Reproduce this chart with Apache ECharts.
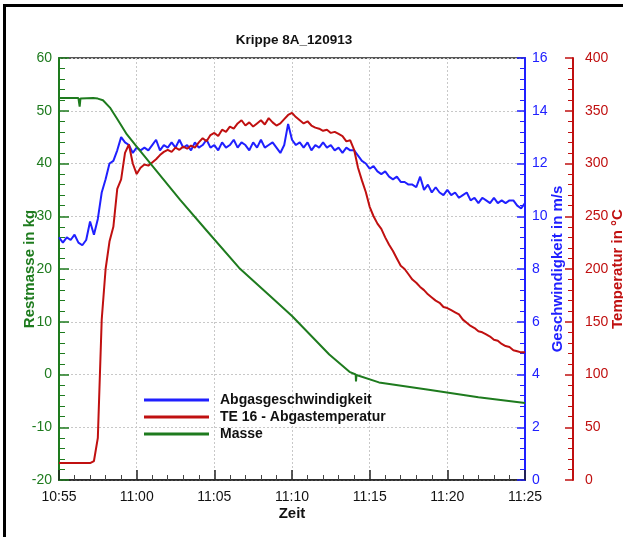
<!DOCTYPE html>
<html><head><meta charset="utf-8">
<script src="https://cdn.jsdelivr.net/npm/echarts@6/dist/echarts.min.js"></script>
<style>html,body{margin:0;padding:0;background:#fff}#c{width:623px;height:537px}</style>
</head><body><div id="c"></div>
<script>
// ---- data ----
const titleText = "Krippe 8A_120913";
const xTickLabels = ["10:55","11:00","11:05","11:10","11:15","11:20","11:25"];
const seriesNames = ["Abgasgeschwindigkeit","TE 16 - Abgastemperatur","Masse"];
// minutes after 10:55
const timeMin = [0,0.25,0.5,0.75,1,1.25,1.5,1.75,2,2.25,2.5,2.75,3,3.25,3.5,3.75,4,4.25,4.5,4.75,
5,5.25,5.5,5.75,6,6.25,6.5,6.75,7,7.25,7.5,7.75,8,8.25,8.5,8.75,9,9.25,9.5,9.75,
10,10.25,10.5,10.75,11,11.25,11.5,11.75,12,12.25,12.5,12.75,13,13.25,13.5,13.75,14,14.25,14.5,14.75,
15,15.25,15.5,15.75,16,16.25,16.5,16.75,17,17.25,17.5,17.75,18,18.25,18.5,18.75,19,19.25,19.5,19.75,
20,20.25,20.5,20.75,21,21.25,21.5,21.75,22,22.25,22.5,22.75,23,23.25,23.5,23.75,24,24.25,24.5,24.75,
25,25.25,25.5,25.75,26,26.25,26.5,26.75,27,27.25,27.5,27.75,28,28.25,28.5,28.75,29,29.25,29.5,29.75,30];
// m/s
const speed = [9.2,9.0,9.2,9.1,9.3,9.0,8.9,9.1,9.8,9.3,9.9,10.9,11.4,12.0,12.1,12.5,13.0,12.8,12.7,12.4,
12.6,12.5,12.6,12.5,12.7,12.9,12.5,12.7,12.6,12.8,12.6,12.9,12.6,12.7,12.5,12.8,12.6,12.7,12.9,12.6,
12.7,12.5,12.8,12.6,12.7,12.9,12.6,12.8,12.7,12.5,12.8,12.6,12.9,12.6,12.7,12.8,12.6,12.4,12.7,13.5,
12.9,12.7,12.8,12.6,12.8,12.5,12.7,12.6,12.8,12.6,12.7,12.5,12.6,12.4,12.6,12.5,12.5,12.3,12.1,12.0,
11.8,11.9,11.7,11.6,11.7,11.5,11.4,11.5,11.3,11.3,11.2,11.2,11.1,11.5,11.0,11.2,10.9,11.1,10.9,10.8,
11.0,10.8,10.9,10.7,10.8,10.9,10.6,10.7,10.5,10.7,10.6,10.5,10.7,10.5,10.6,10.5,10.6,10.6,10.4,10.3,10.5];
// °C
const temperature = [16,16,16,16,16,16,16,16,16,18,40,152,200,226,240,276,285,310,318,300,
290,296,299,298,301,304,308,311,313,311,315,313,316,314,317,315,320,324,321,327,
329,326,332,330,335,333,338,341,336,339,335,338,341,337,343,339,336,338,342,346,
348,344,341,338,340,336,334,333,331,332,329,330,328,326,321,322,313,296,284,273,
259,250,243,238,230,223,217,210,203,200,195,190,187,183,180,176,173,170,168,164,
163,161,159,157,152,149,146,144,141,140,138,136,133,132,129,127,126,123,122,121,121];
// kg
const massTime = [0,1.25,1.33,1.38,1.45,2.2,2.5,2.83,3.28,3.8,4.37,5.0,6.3,7.8,9.5,11.6,13.5,15.0,17.4,18.7,19.1,19.12,19.15,20.6,23.8,27.0,30];
const mass = [52.4,52.4,50.8,52.3,52.4,52.4,52.3,52.0,50.6,48.2,45.5,43.2,38.5,33.1,27.3,20.2,15.1,11.1,3.8,0.5,0.0,-1.3,-0.1,-1.5,-2.9,-4.3,-5.4];

// ---- chart ----
const GREEN = "#1e7b1e", BLUE = "#2020ff", RED = "#c01010";
const FONT = "Liberation Sans, Arial, sans-serif";
const chart = echarts.init(document.getElementById("c"), null, {renderer: "canvas"});
const pair = (xs, ys) => xs.map((x, i) => [x, ys[i]]);
const yAx = (o) => Object.assign({
  type: "value",
  splitLine: {show: false},
  nameLocation: "middle",
  nameMoveOverlap: false,
}, o);
chart.setOption({
  animation: false,
  title: {text: titleText, left: 289, top: 28, textAlign: "center",
    textStyle: {fontFamily: FONT, fontWeight: "bold", fontSize: 13.5, color: "#111"}},
  grid: {left: 59, right: 98, top: 58, bottom: 57, show: true, borderColor: "#222", borderWidth: 1.5,
    outerBoundsMode: "none", containLabel: false},
  legend: {
    orient: "vertical", left: 144, top: 393, padding: 0, itemGap: 3,
    itemWidth: 65, itemHeight: 3, icon: "rect",
    textStyle: {fontFamily: FONT, fontWeight: "bold", fontSize: 14, color: "#111", lineHeight: 14, padding: [0,0,0,6]},
    data: seriesNames
  },
  xAxis: {
    type: "value", min: 0, max: 30, interval: 5,
    axisLine: {onZero: false, lineStyle: {color: "#222", width: 1.5}},
    axisTick: {inside: true, length: 10, lineStyle: {color: "#222", width: 1.5}},
    minorTick: {show: true, splitNumber: 5, length: 5, lineStyle: {color: "#444"}},
    splitLine: {show: true, lineStyle: {color: "#c8c8c8", type: [2, 2]}},
    axisLabel: {fontFamily: FONT, fontSize: 14, color: "#111", margin: 10,
      formatter: (v) => xTickLabels[Math.round(v / 5)]},
    name: "Zeit", nameLocation: "middle", nameGap: 26, nameMoveOverlap: false,
    nameTextStyle: {fontFamily: FONT, fontWeight: "bold", fontSize: 15, color: "#111"}
  },
  yAxis: [
    yAx({min: -20, max: 60, interval: 10, position: "left",
      axisLine: {show: true, lineStyle: {color: GREEN, width: 2}},
      axisTick: {show: true, inside: true, length: 10, lineStyle: {color: GREEN, width: 1.5}},
      minorTick: {show: true, splitNumber: 5, length: 6, lineStyle: {color: GREEN}},
      splitLine: {show: true, lineStyle: {color: "#c8c8c8", type: [2, 2]}},
      axisLabel: {fontFamily: FONT, fontSize: 14, color: GREEN, margin: 7},
      name: "Restmasse in kg", nameGap: 22,
      nameTextStyle: {fontFamily: FONT, fontWeight: "bold", fontSize: 15, color: GREEN}}),
    yAx({min: 0, max: 16, interval: 2, position: "right",
      axisLine: {show: true, lineStyle: {color: BLUE, width: 2}},
      axisTick: {show: true, inside: true, length: 8, lineStyle: {color: BLUE, width: 1.5}},
      minorTick: {show: true, splitNumber: 5, length: 5, lineStyle: {color: BLUE}},
      axisLabel: {fontFamily: FONT, fontSize: 14, color: BLUE, margin: 7},
      name: "Geschwindigkeit in m/s", nameGap: 25,
      nameTextStyle: {fontFamily: FONT, fontWeight: "bold", fontSize: 15, color: BLUE}}),
    yAx({min: 0, max: 400, interval: 50, position: "right", offset: 48,
      axisLine: {show: true, lineStyle: {color: RED, width: 2}},
      axisTick: {show: true, inside: true, length: 8, lineStyle: {color: RED, width: 1.5}},
      minorTick: {show: true, splitNumber: 5, length: 5, lineStyle: {color: RED}},
      axisLabel: {fontFamily: FONT, fontSize: 14, color: RED, margin: 12},
      name: "Temperatur in °C", nameGap: 37,
      nameTextStyle: {fontFamily: FONT, fontWeight: "bold", fontSize: 15, color: RED}})
  ],
  series: [
    {name: seriesNames[0], type: "line", yAxisIndex: 1, showSymbol: false, color: BLUE,
      lineStyle: {width: 2}, data: pair(timeMin, speed)},
    {name: seriesNames[1], type: "line", yAxisIndex: 2, showSymbol: false, color: RED,
      lineStyle: {width: 2}, data: pair(timeMin, temperature)},
    {name: seriesNames[2], type: "line", yAxisIndex: 0, showSymbol: false, color: GREEN,
      lineStyle: {width: 2}, data: pair(massTime, mass)}
  ],
  graphic: [
    {type: "rect", shape: {x: 3, y: 4, width: 620, height: 3}, style: {fill: "#000"}, silent: true},
    {type: "rect", shape: {x: 3, y: 4, width: 3, height: 533}, style: {fill: "#000"}, silent: true}
  ]
});
</script></body></html>
